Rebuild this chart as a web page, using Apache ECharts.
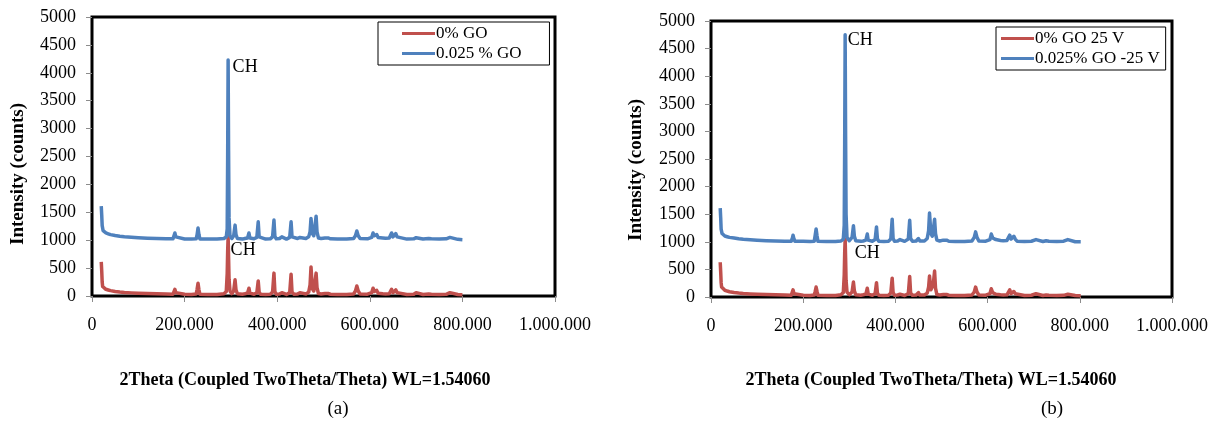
<!DOCTYPE html>
<html>
<head>
<meta charset="utf-8">
<script src="https://cdn.jsdelivr.net/npm/echarts@6/dist/echarts.min.js"></script>
<style>
  html, body { margin: 0; padding: 0; background: #fff; }
  #chart { width: 1223px; height: 422px; }
</style>
</head>
<body>
<div id="chart"></div>
<script>
// XRD patterns, x in 2θ units as exported (×10), y in counts
const seriesNamesA = ['0% GO', '0.025 % GO'];
const seriesNamesB = ['0% GO 25 V', '0.025% GO -25 V'];
const xTickLabels = ['0', '200.000', '400.000', '600.000', '800.000', '1.000.000'];
const peakLabel = 'CH';

// (a) 0% GO
const redA = [
  [20,610],[21,450],[22,250],[23,170],[25,140],[30,120],[35,108],[40,96],[50,82],[60,72],[70,64],[85,56],[100,50],[120,44],[140,40],[160,36],[175,32],
  [177,60],[179,120],[181,60],[183,32],
  [200,30],[215,28],[225,36],[227,120],[229,230],[231,110],[233,32],
  [250,28],[270,28],[285,40],[290,80],[292,400],[293,800],[294,1060],[295,700],[296,300],[298,90],[302,42],
  [306,90],[309,290],[311,110],[314,40],
  [325,32],[330,40],[336,52],[339,140],[341,52],[344,36],
  [350,32],[356,60],[359,270],[361,70],[364,32],
  [375,28],[385,32],[390,70],[393,410],[395,80],[398,32],
  [405,36],[410,60],[413,36],
  [420,28],[427,60],[430,390],[432,70],[436,32],
  [444,36],[449,60],[452,36],
  [462,36],[468,70],[471,200],[473,520],[476,130],[479,90],[481,200],[484,410],[486,150],[489,45],
  [495,36],[503,45],[507,70],[510,45],[515,32],
  [530,28],[550,28],[565,36],[569,90],[572,180],[575,90],[579,36],
  [595,32],[604,60],[607,140],[610,80],[613,90],[615,100],[618,50],[622,36],
  [628,40],[631,50],[634,36],
  [642,40],[645,70],[647,120],[650,60],[654,70],[656,110],[659,60],[663,32],
  [680,28],[695,32],[700,60],[704,32],
  [715,28],[727,36],[730,60],[733,32],
  [750,28],[765,30],[773,60],[776,30],
  [790,26],[800,24]
];

// (a) 0.025 % GO
const blueA = [
  [20,1610],[21,1450],[22,1260],[24,1170],[27,1145],[30,1130],[35,1115],[40,1100],[50,1085],[60,1072],[70,1062],[85,1052],[100,1044],[120,1037],[140,1032],[160,1028],[175,1025],
  [177,1060],[179,1130],[181,1060],[183,1025],
  [200,1022],[215,1020],[225,1025],[227,1100],[229,1220],[231,1100],[233,1022],
  [250,1020],[270,1020],[285,1030],[290,1060],[292,1200],[293,2500],[294,4230],[295,2600],[296,1400],[298,1080],[302,1030],
  [306,1080],[309,1270],[311,1100],[314,1030],
  [325,1020],[330,1030],[336,1040],[339,1130],[341,1040],[344,1030],
  [350,1025],[356,1050],[359,1330],[361,1060],[364,1025],
  [375,1020],[385,1025],[390,1060],[393,1360],[395,1070],[398,1025],
  [405,1030],[410,1060],[413,1030],
  [420,1020],[427,1050],[430,1330],[432,1060],[436,1025],
  [444,1030],[449,1050],[452,1030],
  [462,1030],[468,1060],[471,1150],[473,1390],[476,1120],[479,1080],[481,1200],[484,1430],[486,1150],[489,1040],
  [495,1030],[503,1040],[507,1075],[510,1040],[515,1025],
  [530,1020],[550,1020],[565,1030],[569,1080],[572,1165],[575,1080],[579,1030],
  [595,1025],[604,1050],[607,1130],[610,1080],[613,1090],[615,1100],[618,1050],[622,1030],
  [628,1040],[631,1060],[634,1035],
  [642,1040],[645,1070],[647,1130],[650,1060],[654,1070],[656,1120],[659,1060],[663,1025],
  [680,1020],[695,1025],[700,1045],[704,1025],
  [715,1020],[727,1030],[730,1050],[733,1025],
  [750,1020],[765,1025],[773,1050],[776,1025],
  [790,1015],[800,1010]
];

// (b) 0% GO 25 V
const redB = [
  [20,630],[21,460],[22,260],[23,180],[25,145],[30,122],[35,108],[40,96],[50,82],[60,72],[70,64],[85,56],[100,50],[120,44],[140,40],[160,36],[174,32],
  [176,60],[178,130],[180,60],[182,32],
  [200,30],[215,28],[224,36],[226,100],[228,180],[230,100],[232,32],
  [250,28],[270,28],[282,40],[287,80],[289,400],[290,800],[291,1050],[292,700],[293,300],[295,90],[300,42],
  [306,90],[309,270],[311,110],[314,40],
  [325,32],[330,40],[336,52],[339,160],[341,52],[344,36],
  [350,32],[356,60],[359,260],[361,70],[364,32],
  [375,28],[385,32],[390,70],[393,340],[395,80],[398,32],
  [405,36],[410,50],[413,36],
  [420,28],[428,60],[431,370],[433,70],[437,32],
  [445,36],[450,80],[453,36],
  [463,36],[469,70],[472,180],[474,380],[477,130],[480,120],[482,220],[485,470],[487,160],[490,45],
  [496,36],[504,45],[508,70],[511,45],[516,32],
  [530,28],[550,28],[566,36],[571,90],[574,180],[577,90],[581,36],
  [596,32],[605,60],[608,150],[611,80],[613,90],[615,100],[618,50],[622,36],
  [628,40],[631,50],[634,36],
  [642,40],[645,70],[648,130],[651,60],[655,70],[657,100],[660,60],[664,32],
  [680,28],[695,32],[705,60],[709,32],
  [720,28],[727,36],[730,50],[733,32],
  [750,28],[765,30],[774,50],[777,30],
  [790,26],[802,24]
];

// (b) 0.025% GO -25 V
const blueB = [
  [20,1610],[21,1440],[22,1230],[24,1150],[27,1120],[30,1105],[35,1092],[40,1080],[50,1068],[60,1055],[70,1045],[85,1036],[100,1028],[120,1020],[140,1015],[160,1012],[174,1010],
  [176,1050],[178,1120],[180,1050],[182,1010],
  [200,1008],[215,1006],[224,1012],[226,1120],[228,1230],[230,1110],[232,1008],
  [250,1005],[270,1005],[282,1015],[287,1050],[289,1300],[290,2800],[291,4750],[292,2900],[293,1500],[295,1080],[300,1020],
  [306,1080],[309,1290],[311,1100],[314,1020],
  [325,1008],[330,1015],[336,1030],[339,1140],[341,1030],[344,1015],
  [350,1010],[356,1040],[359,1270],[361,1050],[364,1010],
  [375,1005],[385,1010],[390,1050],[393,1410],[395,1060],[398,1010],
  [405,1015],[410,1040],[413,1015],
  [420,1008],[428,1050],[431,1390],[433,1060],[437,1010],
  [445,1015],[450,1060],[453,1015],
  [463,1015],[469,1060],[472,1200],[474,1520],[477,1150],[480,1100],[482,1200],[485,1410],[487,1150],[490,1030],
  [496,1015],[504,1030],[508,1060],[511,1030],[516,1010],
  [530,1005],[550,1005],[566,1015],[571,1080],[574,1180],[577,1080],[581,1015],
  [596,1010],[605,1040],[608,1140],[611,1070],[613,1080],[615,1090],[618,1040],[622,1015],
  [628,1025],[631,1040],[634,1020],
  [642,1025],[645,1060],[648,1120],[651,1050],[655,1060],[657,1100],[660,1050],[664,1010],
  [680,1005],[695,1010],[705,1040],[709,1010],
  [720,1005],[727,1020],[730,1050],[733,1010],
  [750,1005],[765,1010],[774,1040],[777,1010],
  [790,1000],[802,1000]
];

const RED = '#C0504D';
const BLUE = '#4F81BD';
const SERIF = "'Liberation Serif', 'Times New Roman', serif";

const chart = echarts.init(document.getElementById('chart'), null, { renderer: 'canvas' });

function xAxisFor(gridIndex) {
  return {
    type: 'value', gridIndex, min: 0, max: 1000, interval: 200,
    axisLine: { show: false },
    axisTick: { show: true, length: 6, inside: false, lineStyle: { color: '#8c8c8c', width: 1 } },
    splitLine: { show: false },
    axisLabel: {
      margin: 20, color: '#000', fontFamily: SERIF, fontSize: 18,
      formatter: (v) => xTickLabels[Math.round(v / 200)]
    }
  };
}
function yAxisFor(gridIndex) {
  return {
    type: 'value', gridIndex, min: 0, max: 5000, interval: 500,
    axisLine: { show: false },
    axisTick: { show: true, length: 6, inside: false, lineStyle: { color: '#8c8c8c', width: 1 } },
    splitLine: { show: false },
    axisLabel: {
      margin: 16, color: '#000', fontFamily: SERIF, fontSize: 18,
      formatter: (v) => String(v)
    }
  };
}
function peakMark(coord, offset, distance) {
  return {
    symbol: 'rect', symbolSize: 1,
    itemStyle: { color: 'rgba(0,0,0,0)' },
    label: {
      show: true, position: 'right', distance, offset,
      formatter: peakLabel, color: '#000', fontFamily: SERIF, fontSize: 18
    },
    data: [{ coord }]
  };
}
function lineSeries(name, data, color, gridIndex, mark) {
  return {
    name, type: 'line', data, xAxisIndex: gridIndex, yAxisIndex: gridIndex,
    showSymbol: false, symbol: 'none', animation: false,
    lineStyle: { color, width: 3.5, join: 'round' },
    itemStyle: { color },
    markPoint: mark
  };
}
function legendFor(names, left, top, padding) {
  return {
    data: names, orient: 'vertical', left, top,
    icon: 'rect', itemWidth: 33, itemHeight: 3, itemGap: 3,
    padding, borderColor: '#000', borderWidth: 1, backgroundColor: '#fff',
    selectedMode: false,
    textStyle: { fontFamily: SERIF, fontSize: 17, color: '#000', padding: [0, 0, 0, -4] }
  };
}

const axisTitle = "2Theta (Coupled TwoTheta/Theta) WL=1.54060";
const yTitle = 'Intensity (counts)';

chart.setOption({
  backgroundColor: '#fff',
  animation: false,
  grid: [
    { left: 92, top: 17, width: 463, height: 279, show: true, borderColor: '#000', borderWidth: 3, backgroundColor: 'transparent' },
    { left: 711, top: 21, width: 461, height: 276, show: true, borderColor: '#000', borderWidth: 3, backgroundColor: 'transparent' }
  ],
  xAxis: [xAxisFor(0), xAxisFor(1)],
  yAxis: [yAxisFor(0), yAxisFor(1)],
  legend: [
    legendFor(seriesNamesA, 378, 22, [3, 28, 3, 24]),
    legendFor(seriesNamesB, 996, 27, [3, 6, 3, 5])
  ],
  series: [
    lineSeries(seriesNamesA[0], redA, RED, 0, peakMark([294, 1060], [0, 13], 2)),
    lineSeries(seriesNamesA[1], blueA, BLUE, 0, peakMark([294, 4230], [0, 7], 4)),
    lineSeries(seriesNamesB[0], redB, RED, 1, peakMark([291, 1050], [0, 14], 9)),
    lineSeries(seriesNamesB[1], blueB, BLUE, 1, peakMark([291, 4750], [0, 5], 2))
  ],
  graphic: [
    { type: 'text', x: 18, y: 174, rotation: Math.PI / 2,
      style: { text: yTitle, fontFamily: SERIF, fontSize: 19, fontWeight: 'bold', fill: '#000', textAlign: 'center', textVerticalAlign: 'middle' } },
    { type: 'text', x: 636, y: 170, rotation: Math.PI / 2,
      style: { text: yTitle, fontFamily: SERIF, fontSize: 19, fontWeight: 'bold', fill: '#000', textAlign: 'center', textVerticalAlign: 'middle' } },
    { type: 'text', x: 305, y: 380,
      style: { text: axisTitle, fontFamily: SERIF, fontSize: 18, fontWeight: 'bold', fill: '#000', textAlign: 'center', textVerticalAlign: 'middle' } },
    { type: 'text', x: 931, y: 380,
      style: { text: axisTitle, fontFamily: SERIF, fontSize: 18, fontWeight: 'bold', fill: '#000', textAlign: 'center', textVerticalAlign: 'middle' } },
    { type: 'text', x: 338, y: 409,
      style: { text: '(a)', fontFamily: SERIF, fontSize: 19, fill: '#000', textAlign: 'center', textVerticalAlign: 'middle' } },
    { type: 'text', x: 1052, y: 409,
      style: { text: '(b)', fontFamily: SERIF, fontSize: 19, fill: '#000', textAlign: 'center', textVerticalAlign: 'middle' } }
  ]
});
</script>
</body>
</html>
